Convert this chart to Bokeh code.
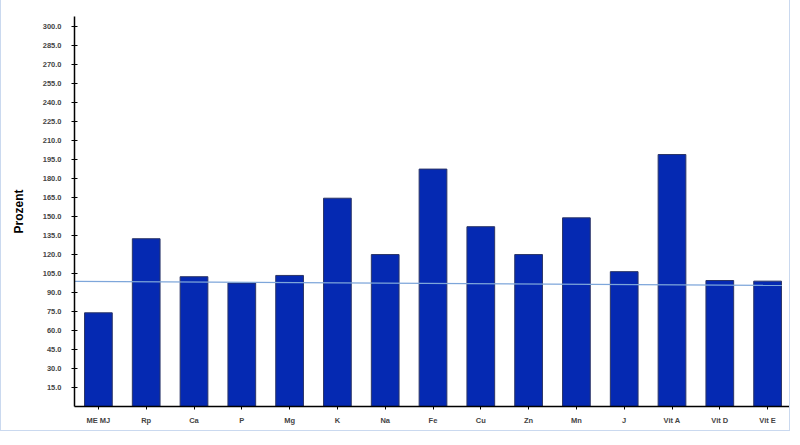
from bokeh.plotting import figure
from bokeh.models import FactorRange, Range1d, FixedTicker, NumeralTickFormatter, ColumnDataSource
from bokeh.embed import file_html
from bokeh.resources import INLINE

categories = ["ME MJ", "Rp", "Ca", "P", "Mg", "K", "Na", "Fe", "Cu", "Zn", "Mn", "J", "Vit A", "Vit D", "Vit E"]
prozent = [74.0, 132.5, 102.5, 97.5, 103.5, 164.5, 120.0, 187.5, 142.0, 120.0, 149.0, 106.5, 199.0, 99.5, 99.0]
y_ticks = [15, 30, 45, 60, 75, 90, 105, 120, 135, 150, 165, 180, 195, 210, 225, 240, 255, 270, 285, 300]
ref_start = 98.8
ref_end = 95.6

p = figure(x_range=FactorRange(factors=categories, range_padding=0),
           y_range=Range1d(0, 308),
           width=790, height=431, output_backend="svg", toolbar_location=None,
           min_border_left=73, min_border_top=16, min_border_bottom=25, min_border_right=0)

src = ColumnDataSource(dict(cat=categories, val=prozent))
p.vbar(x="cat", top="val", width=0.58, source=src,
       fill_color="#0529b2", line_color="#2b3566", line_width=1)

p.segment(x0=[("ME MJ", -0.5)], y0=[ref_start], x1=[("Vit E", 0.3)], y1=[ref_end],
          line_color="#7ea6da", line_width=1.3)

p.grid.visible = False
p.outline_line_color = None
p.background_fill_color = "white"
p.border_fill_color = "white"

ya = p.yaxis[0]
ya.ticker = FixedTicker(ticks=y_ticks)
ya.formatter = NumeralTickFormatter(format="0.0")
ya.axis_label = "Prozent"
ya.axis_label_text_font = "Liberation Sans"
ya.axis_label_text_font_size = "12px"
ya.axis_label_text_font_style = "bold"
ya.axis_label_text_color = "black"
ya.axis_label_standoff = 14
ya.major_label_text_font = "Liberation Sans"
ya.major_label_text_font_size = "7.5px"
ya.major_label_text_font_style = "bold"
ya.major_label_text_color = "#444444"
ya.major_label_standoff = 10
ya.major_tick_in = 3
ya.major_tick_out = 3
ya.minor_tick_in = 0
ya.minor_tick_out = 0
ya.axis_line_color = "black"
ya.axis_line_width = 1.5
ya.major_tick_line_color = "black"

xa = p.xaxis[0]
xa.major_label_text_font = "Liberation Sans"
xa.major_label_text_font_size = "7.5px"
xa.major_label_text_font_style = "bold"
xa.major_label_text_color = "#444444"
xa.major_label_standoff = 6
xa.major_tick_in = 0
xa.major_tick_out = 3
xa.axis_line_color = "black"
xa.axis_line_width = 1.5
xa.major_tick_line_color = "black"

p.styles = {"border-right": "1px solid #cad9ef", "border-bottom": "1px solid #cad9ef",
            "border-left": "1px solid #cad9ef"}

html = file_html(p, INLINE)
html = html.replace("<body>", '<body style="background:#f4f6f9;">', 1)
open("out.html", "w").write(html)
